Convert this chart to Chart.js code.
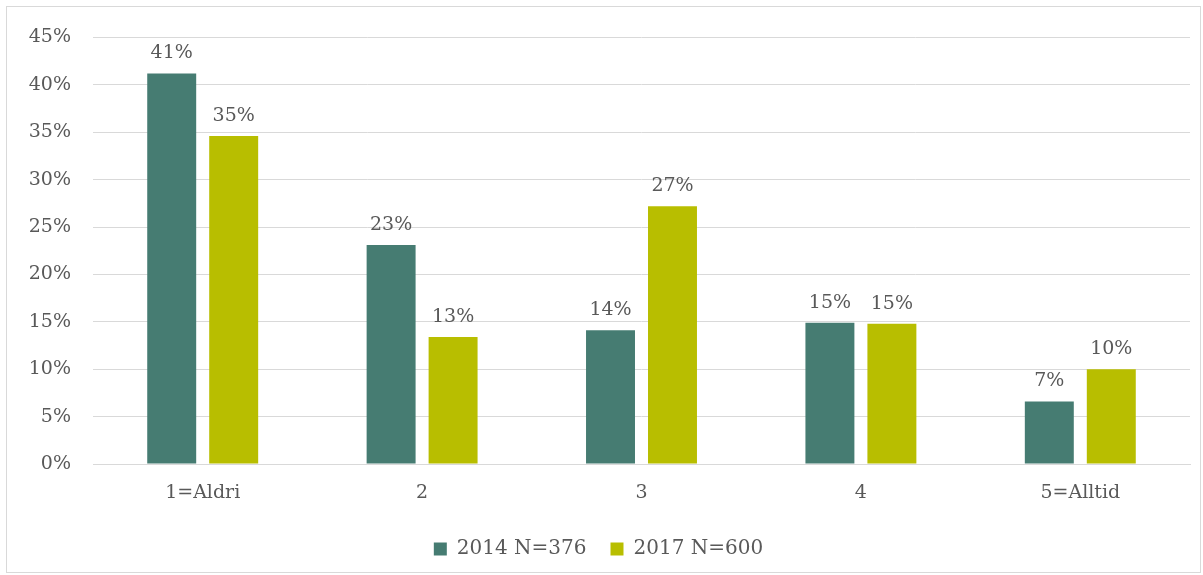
<!DOCTYPE html>
<html>
<head>
<meta charset="utf-8">
<script src="https://cdn.jsdelivr.net/npm/chart.js@4"></script>
<style>
  body { margin: 0; background: #fff; }
  .frame {
    position: absolute; left: 6px; top: 6px;
    width: 1193px; height: 565px;
    border: 1px solid #d9d9d9;
  }
  .chart {
    position: absolute; left: 7px; top: 4px;
    width: 1193px; height: 568px;
  }
</style>
</head>
<body>
<div class="frame"></div>
<div class="chart"><canvas id="myChart"></canvas></div>
<script>
// values (percent)
const categories = ["1=Aldri", "2", "3", "4", "5=Alltid"];
const values2014 = [41.2, 23.1, 14.1, 14.9, 6.6];
const values2017 = [34.6, 13.4, 27.2, 14.8, 10.0];
const seriesNames = ["2014 N=376", "2017 N=600"];

const fontFamily = "'DejaVu Serif', 'Liberation Serif', serif";
const textColor = "#595959";

// draws the value labels above each bar
const barLabels = {
    id: "barLabels",
    afterDatasetsDraw(chart) {
        const ctx = chart.ctx;
        ctx.save();
        ctx.font = "19px " + fontFamily;
        ctx.fillStyle = textColor;
        ctx.textAlign = "center";
        ctx.textBaseline = "alphabetic";
        chart.data.datasets.forEach((ds, i) => {
            chart.getDatasetMeta(i).data.forEach((bar, j) => {
                ctx.fillText(Math.round(ds.data[j]) + "%", bar.x, bar.y - 15);
            });
        });
        ctx.restore();
    }
};

const ctx = document.getElementById("myChart").getContext("2d");
const chart = new Chart(ctx, {
    type: "bar",
    data: {
        labels: categories,
        datasets: [
            {
                label: seriesNames[0],
                data: values2014,
                backgroundColor: "#467c72",
                borderWidth: 0
            },
            {
                label: seriesNames[1],
                data: values2017,
                backgroundColor: "#b8be00",
                borderWidth: 0
            }
        ]
    },
    options: {
        responsive: true,
        maintainAspectRatio: false,
        animation: false,
        datasets: {
            bar: { categoryPercentage: 0.565, barPercentage: 0.79 }
        },
        layout: { padding: { left: 0, right: 10, top: 23, bottom: 3 } },
        plugins: {
            legend: {
                position: "bottom",
                labels: {
                    font: { family: fontFamily, size: 20 },
                    color: textColor,
                    boxWidth: 13,
                    boxHeight: 13,
                    padding: 24
                }
            },
            tooltip: { enabled: false }
        },
        scales: {
            x: {
                grid: { display: false },
                border: { color: "#d9d9d9" },
                ticks: {
                    font: { family: fontFamily, size: 19 },
                    color: textColor,
                    padding: 10
                },
                afterFit: (s) => { s.height = 51; }
            },
            y: {
                min: 0,
                max: 45,
                grid: { color: "#d9d9d9", drawTicks: false },
                border: { display: false },
                ticks: {
                    stepSize: 5,
                    font: { family: fontFamily, size: 19 },
                    color: textColor,
                    padding: 22,
                    callback: (v) => v + "%"
                },
                afterFit: (s) => { s.width = 86; }
            }
        }
    },
    plugins: [barLabels]
});
</script>
</body>
</html>
